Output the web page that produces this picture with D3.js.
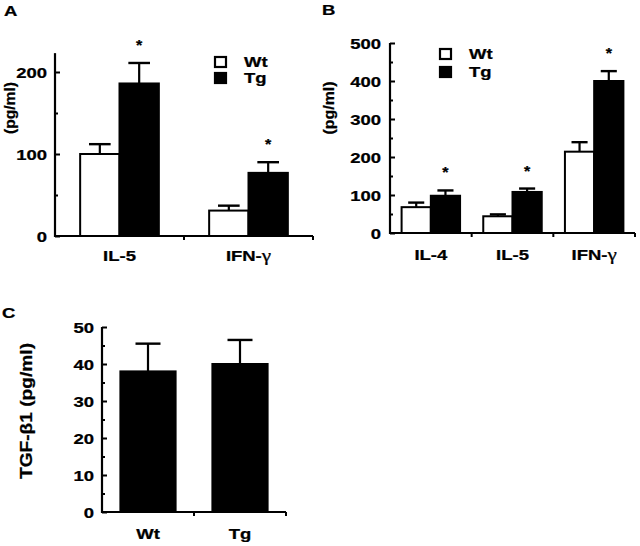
<!DOCTYPE html>
<html><head><meta charset="utf-8">
<script src="https://cdn.jsdelivr.net/npm/d3@7"></script>
<style>
body{margin:0;background:#fff}
svg text{font-family:"Liberation Sans",Arial,sans-serif;font-weight:bold;fill:#000;stroke:#000;stroke-width:0.25px}
</style>
</head><body>
<svg id="chart" width="640" height="546"></svg>
<script>
// ---------- data ----------
const seriesNames = ["Wt", "Tg"];

// Panel A
const catsA = ["IL-5", "IFN-γ"];
const wtA = [100, 31];
const wtAErr = [12, 6];
const tgA = [186, 77];
const tgAErr = [25, 13];
const starsA = [true, true];           // on Tg bars
const ticksA = [0, 100, 200];
const minorA = [50, 150];

// Panel B
const catsB = ["IL-4", "IL-5", "IFN-γ"];
const wtB = [68, 44, 214];
const wtBErr = [12, 5, 25];
const tgB = [98, 108, 400];
const tgBErr = [14, 9, 26];
const starsB = [true, true, true];
const ticksB = [0, 100, 200, 300, 400, 500];
const minorB = [50, 150, 250, 350, 450];

// Panel C
const catsC = ["Wt", "Tg"];
const valsC = [38, 40];
const errC = [7.5, 6.5];
const ticksC = [0, 10, 20, 30, 40, 50];
const minorC = [5, 15, 25, 35, 45];

// ---------- drawing ----------
const svg = d3.select("#chart");
const SX = 1.32; // horizontal stretch of the lettering
const FS = 14;

function stretch(sel, sx) {
  sel.each(function () {
    const t = d3.select(this);
    const x = +t.attr("x") || 0, y = +t.attr("y") || 0;
    t.attr("x", 0).attr("y", 0).attr("transform", `translate(${x},${y}) scale(${sx},1)`);
  });
}

function label(g, x, y, txt, size, anchor) {
  const t = g.append("text").attr("x", x).attr("y", y)
    .attr("text-anchor", anchor || "middle").style("font-size", size + "px");
  if (txt.endsWith("γ")) {
    t.append("tspan").text(txt.slice(0, -1));
    t.append("tspan").text("γ").style("font-family", "'Liberation Serif',serif")
      .style("font-weight", "normal").style("font-size", (size + 2) + "px");
  } else t.text(txt);
  stretch(t, SX);
  return t;
}

function panel(cfg) {
  const g = svg.append("g");
  const y = d3.scaleLinear().domain([0, cfg.yMax]).range([cfg.y0, cfg.yTop]);
  const x0 = d3.scaleBand().domain(cfg.cats).range([cfg.left, cfg.right])
    .paddingInner(cfg.pad).paddingOuter(cfg.pad / 2);
  const x1 = d3.scaleBand().domain(cfg.series.map(s => s.name)).range([0, x0.bandwidth()]);

  // bars
  cfg.series.forEach(s => {
    const bw = x1.bandwidth();
    cfg.cats.forEach((c, i) => {
      const bx = x0(c) + x1(s.name);
      const v = s.values[i], e = s.errs[i];
      const cx = bx + bw / 2;
      g.append("line").attr("x1", cx).attr("x2", cx).attr("y1", y(v)).attr("y2", y(v + e))
        .attr("stroke", "#000").attr("stroke-width", 2.2);
      const cw = Math.min(bw * 0.55, 25);
      g.append("line").attr("x1", cx - cw / 2).attr("x2", cx + cw / 2)
        .attr("y1", y(v + e)).attr("y2", y(v + e))
        .attr("stroke", "#000").attr("stroke-width", 2.4);
      g.append("rect").attr("x", bx).attr("width", bw)
        .attr("y", y(v)).attr("height", y(0) - y(v))
        .attr("fill", s.fill).attr("stroke", "#000").attr("stroke-width", 2);
      if (s.stars && s.stars[i]) {
        const st = g.append("text").attr("x", cx).attr("y", y(v + e) - 13)
          .attr("text-anchor", "middle").style("font-size", "14px").text("*");
        stretch(st, 1.15);
      }
    });
  });

  // y axis (labels outside, ticks inward)
  const ax = d3.axisLeft(y).tickValues(cfg.ticks).tickSizeInner(-5).tickSizeOuter(0)
    .tickPadding(cfg.tickPad).tickFormat(d3.format("d"));
  const ag = g.append("g").attr("transform", `translate(${cfg.left},0)`).call(ax);
  ag.select(".domain").remove();
  ag.selectAll("line").attr("stroke", "#000").attr("stroke-width", 2);
  ag.selectAll("text").style("font-size", FS + "px").style("font-family", null)
    .attr("fill", "#000").attr("dy", "0.36em");
  ag.selectAll("text").each(function () {
    const t = d3.select(this);
    const x = +t.attr("x");
    t.attr("x", 0).attr("transform", `translate(${x},0) scale(${SX},1)`);
  });
  const mn = d3.axisLeft(y).tickValues(cfg.minor).tickSizeInner(-3).tickSizeOuter(0).tickFormat("");
  const mg = g.append("g").attr("transform", `translate(${cfg.left},0)`).call(mn);
  mg.select(".domain").remove();
  mg.selectAll("line").attr("stroke", "#000").attr("stroke-width", 2);

  // axis lines
  g.append("line").attr("x1", cfg.left).attr("x2", cfg.left)
    .attr("y1", y(0) + 1).attr("y2", y(cfg.axisTop))
    .attr("stroke", "#000").attr("stroke-width", 2.2);
  g.append("line").attr("x1", cfg.left - 1).attr("x2", cfg.right)
    .attr("y1", y(0)).attr("y2", y(0))
    .attr("stroke", "#000").attr("stroke-width", 2.2);
  const step = x0.step();
  cfg.cats.forEach((c, i) => {
    if (i === 0) return;
    const bx = cfg.left + step * i;
    g.append("line").attr("x1", bx).attr("x2", bx).attr("y1", y(0)).attr("y2", y(0) + 4)
      .attr("stroke", "#000").attr("stroke-width", 2);
  });
  g.append("line").attr("x1", cfg.right).attr("x2", cfg.right).attr("y1", y(0)).attr("y2", y(0) + 4)
    .attr("stroke", "#000").attr("stroke-width", 2);

  // category labels
  cfg.cats.forEach(c => label(g, x0(c) + x0.bandwidth() / 2, cfg.xLabY, c, FS));

  // y title
  g.append("text").attr("transform", `translate(${cfg.yt[0]},${cfg.yt[1]}) rotate(-90)`)
    .attr("text-anchor", "middle").attr("dy", "0.35em")
    .style("font-size", cfg.ytSize + "px")
    .attr("textLength", cfg.ytLen).attr("lengthAdjust", "spacingAndGlyphs")
    .text(cfg.yTitle);

  // panel letter
  label(g, cfg.letter[0], cfg.letter[1], cfg.letter[2], 14, "start");

  // legend
  if (cfg.legend) {
    const L = cfg.legend;
    cfg.series.forEach((s, i) => {
      const yy = L.y[i];
      g.append("rect").attr("x", L.x).attr("y", yy).attr("width", 11).attr("height", 10)
        .attr("fill", s.fill).attr("stroke", "#000").attr("stroke-width", 2.2);
      label(g, L.tx, yy + 10, s.name, FS, "start");
    });
  }
}

panel({
  cats: catsA, left: 55, right: 313, y0: 236, yTop: 236 - 0.82 * 223, yMax: 223, axisTop: 223,
  pad: 0.39, ticks: ticksA, minor: minorA, tickPad: 8,
  series: [
    { name: seriesNames[0], values: wtA, errs: wtAErr, fill: "#fff" },
    { name: seriesNames[1], values: tgA, errs: tgAErr, fill: "#000", stars: starsA }
  ],
  xLabY: 261, yTitle: "(pg/ml)", yt: [10, 108], ytSize: 15, ytLen: 52,
  letter: [4, 16, "A"],
  legend: { x: 215, y: [57, 73], tx: 244 }
});

panel({
  cats: catsB, left: 390, right: 635, y0: 233, yTop: 43, yMax: 500, axisTop: 500,
  pad: 0.284, ticks: ticksB, minor: minorB, tickPad: 9,
  series: [
    { name: seriesNames[0], values: wtB, errs: wtBErr, fill: "#fff" },
    { name: seriesNames[1], values: tgB, errs: tgBErr, fill: "#000", stars: starsB }
  ],
  xLabY: 260, yTitle: "(pg/ml)", yt: [329, 108], ytSize: 15, ytLen: 53,
  letter: [322, 15, "B"],
  legend: { x: 440, y: [49, 67], tx: 469 }
});

panel({
  cats: catsC, left: 102, right: 286, y0: 512, yTop: 327, yMax: 50, axisTop: 50,
  pad: 0.40, ticks: ticksC, minor: minorC, tickPad: 8,
  series: [
    { name: "all", values: valsC, errs: errC, fill: "#000" }
  ],
  xLabY: 539, yTitle: "TGF-β1 (pg/ml)", yt: [26, 411], ytSize: 16, ytLen: 136,
  letter: [2, 318, "C"]
});
</script>
</body></html>
